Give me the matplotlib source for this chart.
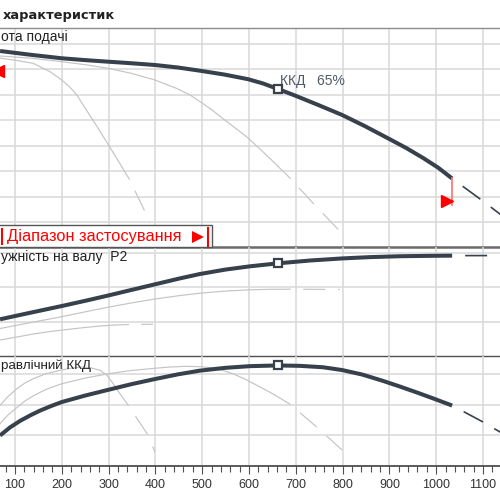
import matplotlib
matplotlib.use('Agg')
import matplotlib.pyplot as plt
from matplotlib.patches import Rectangle

plt.rcParams['font.family'] = ['Liberation Sans', 'DejaVu Sans']
plt.rcParams['lines.scale_dashes'] = False

## 1. Data (Q in m3/h) 数据
# head H, m
q_h_main = [68, 134, 200, 250, 299, 348, 399, 448, 495, 547, 598, 630, 662, 698, 747,
            799, 848, 897, 936, 972, 1004, 1034]
h_main = [43.6, 42.85, 42.17, 41.81, 41.5, 41.2, 40.85, 40.36, 39.73, 38.98, 38.06, 37.22,
          36.13, 34.86, 33.03, 31.03, 28.82, 26.45, 24.54, 22.58, 20.69, 18.55]
q_h_main_ext = [1034, 1097, 1140]
h_main_ext = [18.55, 14.3, 11.3]
q_h_a = [68, 134, 200, 250, 299, 348, 399, 446, 474, 495, 521, 544, 572, 598, 628, 658, 688]
h_a = [42.62, 42.19, 41.5, 40.91, 40.2, 39.22, 37.9, 36.23, 34.96, 33.68, 32.01, 30.34,
       28.37, 26.51, 23.95, 21.3, 18.59]
q_h_a_ext = [688, 741, 794]
h_a_ext = [18.59, 13.3, 8.2]
q_h_b = [68, 104, 139, 175, 200, 218, 232, 245, 260, 282, 303, 324, 344]
h_b = [42.2, 41.73, 41.18, 39.53, 37.9, 36.43, 34.96, 33.09, 30.93, 27.78, 24.64, 21.5, 18.45]
q_h_b_ext = [344, 378, 388]
h_b_ext = [18.45, 12.0, 9.8]

# shaft power P2, kW
q_p_main = [68, 134, 200, 250, 299, 348, 399, 453, 495, 549, 602, 662, 730, 799, 858,
            923, 987, 1034]
p_main = [76.6, 81.45, 86.23, 90.0, 93.84, 97.82, 101.95, 106.3, 109.42, 112.61, 115.0,
          117.17, 119.2, 120.72, 121.66, 122.31, 122.6, 122.75]
q_p_main_ext = [1034, 1140]
p_main_ext = [122.75, 122.8]
q_p_a = [68, 134, 200, 250, 299, 348, 399, 448, 495, 549, 602, 645, 688]
p_a = [69.93, 74.27, 78.48, 82.03, 85.36, 88.4, 91.3, 93.62, 95.51, 97.03, 97.97, 98.33, 98.4]
q_p_a_ext = [688, 794]
p_a_ext = [98.4, 98.2]
q_p_b = [68, 104, 139, 175, 211, 247, 282, 314, 342]
p_b = [61.59, 63.77, 65.94, 67.75, 69.2, 70.58, 71.74, 72.46, 72.82]
q_p_b_ext = [342, 395]
p_b_ext = [72.82, 73.0]

# hydraulic efficiency, %
q_e_main = [68, 89, 111, 134, 153, 177, 200, 250, 299, 348, 399, 448, 495, 549, 602,
            662, 709, 758, 799, 842, 886, 923, 959, 993, 1034]
e_main = [19.87, 25.08, 29.45, 33.23, 36.03, 39.09, 41.7, 45.93, 49.64, 53.29, 56.68,
          59.74, 62.15, 63.98, 65.09, 65.54, 65.28, 64.37, 62.54, 59.61, 55.51, 51.73,
          47.89, 44.11, 39.42]
q_e_main_ext = [1034, 1100, 1140]
e_main_ext = [39.42, 28.7, 21.5]
q_e_a = [68, 85, 104, 121, 139, 168, 200, 250, 299, 348, 399, 431, 463, 495, 521, 542,
         566, 592, 619, 645, 666, 688]
e_a = [27.56, 33.23, 38.11, 42.35, 45.74, 50.17, 53.62, 57.33, 60.13, 62.22, 63.72, 64.5,
       64.95, 64.76, 63.98, 62.54, 60.07, 56.55, 52.25, 48.01, 44.3, 40.2]
q_e_a_ext = [688, 747, 799]
e_a_ext = [40.2, 24.8, 10.4]
q_e_b = [68, 85, 104, 121, 139, 164, 196, 222, 243, 260, 282, 297, 309, 324, 342]
e_b = [39.55, 45.28, 50.36, 54.07, 56.88, 59.94, 62.35, 63.85, 64.5, 64.17, 62.35, 58.96,
       53.94, 47.23, 39.55]
q_e_b_ext = [342, 384, 399]
e_b_ext = [39.55, 20.2, 9.1]

q_bep = 662
h_bep, p_bep, e_bep = 36.13, 117.17, 65.54
q_range_end = 1034
q_ticks = list(range(100, 1200, 100))

## 2. Styles 样式
DARK = '#37414b'
GREY = '#c4c4c4'
GRID = '#d8d8d8'
DASH = (15.8, (15.8, 9.4))

fig = plt.figure(figsize=(5, 5), dpi=100, facecolor='white')
ax_h = fig.add_axes([0, 0.506, 1, 0.438])
ax_p = fig.add_axes([0, 0.288, 1, 0.218])
ax_e = fig.add_axes([0, 0.068, 1, 0.22])


def draw(ax, q, y, q_ext, y_ext, main=False):
    if main:
        ax.plot(q, y, color=DARK, lw=2.9, solid_capstyle='butt', solid_joinstyle='round', zorder=4)
        ax.plot(q_ext, y_ext, color=DARK, lw=1.2, linestyle=DASH, dash_capstyle='butt', zorder=4)
    else:
        ax.plot(q, y, color=GREY, lw=0.85, zorder=3)
        ax.plot(q_ext, y_ext, color=GREY, lw=0.85, linestyle=DASH, dash_capstyle='butt', zorder=3)


draw(ax_h, q_h_a, h_a, q_h_a_ext, h_a_ext)
draw(ax_h, q_h_b, h_b, q_h_b_ext, h_b_ext)
draw(ax_h, q_h_main, h_main, q_h_main_ext, h_main_ext, main=True)
draw(ax_p, q_p_a, p_a, q_p_a_ext, p_a_ext)
draw(ax_p, q_p_b, p_b, q_p_b_ext, p_b_ext)
draw(ax_p, q_p_main, p_main, q_p_main_ext, p_main_ext, main=True)
draw(ax_e, q_e_a, e_a, q_e_a_ext, e_a_ext)
draw(ax_e, q_e_b, e_b, q_e_b_ext, e_b_ext)
draw(ax_e, q_e_main, e_main, q_e_main_ext, e_main_ext, main=True)

for ax, yb in [(ax_h, h_bep), (ax_p, p_bep), (ax_e, e_bep)]:
    ax.plot([q_bep], [yb], marker='s', ms=6, mfc='white', mec=DARK, mew=1.6, zorder=5)

ax_h.annotate('ККД   65%', (q_bep, h_bep), xytext=(1.5, 3), textcoords='offset points',
              fontsize=10, color='#4f5a66', va='baseline', ha='left')

# range of use markers
ax_h.plot([q_range_end, q_range_end], [h_main[-1], 13.3], color='#ff7070', lw=1.2, zorder=5)
ax_h.plot([1022], [14.2], marker='>', ms=8, color='red', zorder=5)
ax_h.plot([62.6], [39.7], marker='<', ms=8, color='red', zorder=5)

## 3. Axes & grid 坐标轴与网格
for ax, ylim, yt in [(ax_h, (5.09, 48.12), range(10, 50, 5)),
                     (ax_p, (50, 129.0), [75, 100, 125]),
                     (ax_e, (0, 71.7), [20, 40, 60])]:
    ax.set_xlim(67.9, 1136.3)
    ax.set_ylim(*ylim)
    ax.set_yticks(list(yt))
    ax.set_xticks(q_ticks)
    ax.grid(True, color=GRID, lw=1.1, zorder=0)
    ax.set_axisbelow(True)
    ax.tick_params(axis='y', length=0, labelleft=False)
    for s in ['left', 'right']:
        ax.spines[s].set_visible(False)
    ax.patch.set_alpha(0)

ax_h.spines['top'].set_color('#8c8c8c')
ax_h.spines['top'].set_linewidth(1.0)
ax_h.spines['bottom'].set_color('#6a6a6a')
ax_h.spines['bottom'].set_linewidth(1.8)
ax_p.spines['top'].set_visible(False)
ax_p.spines['bottom'].set_color('#505050')
ax_p.spines['bottom'].set_linewidth(1.0)
ax_e.spines['top'].set_visible(False)
ax_e.spines['bottom'].set_color('#404040')
ax_e.spines['bottom'].set_linewidth(1.2)

for ax in [ax_h, ax_p]:
    ax.tick_params(axis='x', length=0, labelbottom=False)

ax_e.set_xticks(range(80, 1140, 20), minor=True)
ax_e.tick_params(axis='x', which='major', direction='out', length=5.5, width=0.8,
                 color='#505050', labelsize=9, labelcolor='#333333', pad=4)
ax_e.tick_params(axis='x', which='minor', direction='out', length=4, width=0.8, color='#505050')

## 4. Labels (pixel overlay) 文字
ov = fig.add_axes([0, 0, 1, 1], zorder=10)
ov.set_xlim(0, 500)
ov.set_ylim(500, 0)
ov.axis('off')
ov.patch.set_alpha(0)

ov.text(3, 18.5, 'характеристик', fontsize=9.4, fontweight='bold', family='DejaVu Sans',
        color='#222222', va='baseline')
ov.text(1, 40.5, 'ота подачі', fontsize=10, color='#222222', va='baseline')
ov.text(1, 260.5, 'ужність на валу  P2', fontsize=10, color='#222222', va='baseline')
ov.text(1, 369.5, 'равлічний ККД', fontsize=9.6, color='#222222', va='baseline')

ov.add_patch(Rectangle((-2, 225), 214, 21.5, facecolor='white', edgecolor='#555555', lw=1.0))
ov.plot([1.5, 1.5], [229, 244], color='red', lw=1.5)
ov.plot([207.5, 207.5], [228, 246], color='red', lw=1.5)
ov.text(7, 240.5, 'Діапазон застосування', fontsize=11.8, color='red', va='baseline')
ov.plot([198], [237], marker='>', ms=8, color='red', mew=0)

plt.savefig('out.png', dpi=100)
